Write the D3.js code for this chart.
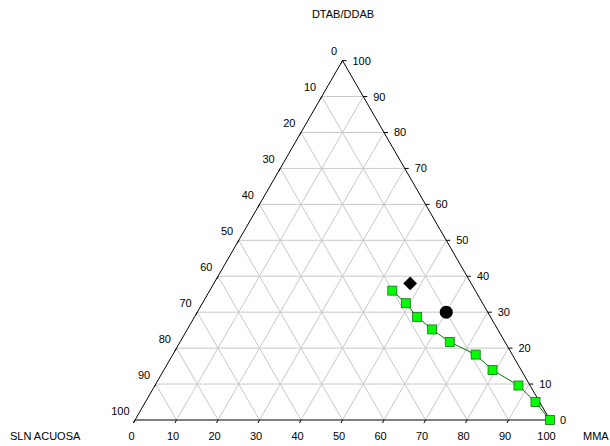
<!DOCTYPE html>
<html><head><meta charset="utf-8">
<script src="https://cdn.jsdelivr.net/npm/d3@7"></script>
<style>body{margin:0;background:#fff}svg{display:block}text{font-family:"Liberation Sans",Arial,sans-serif;font-size:11px;fill:#000}</style>
</head><body><svg id="c" width="610" height="446"></svg>
<script>
// Series: green line (MMA %, DTAB/DDAB %; SLN ACUOSA = 100 - both)
const seriesMMA  = [44, 49, 53.6, 59, 65, 73, 79.2, 87.6, 94, 100];
const seriesDTAB = [36, 32.5, 28.7, 25.2, 21.7, 18.2, 13.9, 9.6, 5, 0];
// Single markers
const diamondPt = {mma: 47.3, dtab: 38};
const circlePt  = {mma: 60, dtab: 30};
const tickValues = [0, 10, 20, 30, 40, 50, 60, 70, 80, 90, 100];
const axisTitles = {top: "DTAB/DDAB", left: "SLN ACUOSA", right: "MMA"};

const svg = d3.select("#c");
const xS = d3.scaleLinear().domain([0, 100]).range([135, 550]);
const yS = d3.scaleLinear().domain([0, 100]).range([420, 60.6]);
const P = (m, d) => [xS(m + d / 2), yS(d)];

const grid = svg.append("g").attr("stroke", "#c8c8c8").attr("stroke-width", 1).attr("fill", "none");
tickValues.slice(1, -1).forEach(v => {
  grid.append("line").attr("x1", P(0, v)[0]).attr("y1", P(0, v)[1]).attr("x2", P(100 - v, v)[0]).attr("y2", P(100 - v, v)[1]);
  grid.append("line").attr("x1", P(v, 0)[0]).attr("y1", P(v, 0)[1]).attr("x2", P(v, 100 - v)[0]).attr("y2", P(v, 100 - v)[1]);
  const t = 100 - v;
  grid.append("line").attr("x1", P(t, 0)[0]).attr("y1", P(t, 0)[1]).attr("x2", P(0, t)[0]).attr("y2", P(0, t)[1]);
});

const tri = [P(0, 0), P(100, 0), P(0, 100)];
svg.append("path").attr("d", "M" + tri.map(p => p.join(",")).join("L") + "Z")
  .attr("fill", "none").attr("stroke", "#000").attr("stroke-width", 1);

const ax = svg.append("g");
tickValues.forEach(v => {
  let p = P(v, 0);
  ax.append("line").attr("x1", p[0]).attr("y1", p[1]).attr("x2", p[0] - 1.5).attr("y2", p[1] + 3).attr("stroke", "#000");
  ax.append("text").attr("x", p[0] - 3.5).attr("y", p[1] + 15.5).attr("text-anchor", "middle").attr("dominant-baseline", "central").text(v);
  p = P(100 - v, v);
  ax.append("line").attr("x1", p[0]).attr("y1", p[1]).attr("x2", p[0] + 4).attr("y2", p[1]).attr("stroke", "#000");
  ax.append("text").attr("x", p[0] + 10).attr("y", p[1]).attr("dominant-baseline", "central").text(v);
  p = P(0, 100 - v);
  ax.append("line").attr("x1", p[0]).attr("y1", p[1]).attr("x2", p[0] - 1.5).attr("y2", p[1] + 3).attr("stroke", "#000");
  ax.append("text").attr("x", p[0] - 5.5).attr("y", p[1] - 9.5).attr("text-anchor", "end").attr("dominant-baseline", "central").text(v);
});

svg.append("text").attr("x", 343).attr("y", 14).attr("text-anchor", "middle").attr("dominant-baseline", "central").text(axisTitles.top);
svg.append("text").attr("x", 10).attr("y", 436).attr("dominant-baseline", "central").text(axisTitles.left);
svg.append("text").attr("x", 583).attr("y", 436).attr("dominant-baseline", "central").text(axisTitles.right);

const pts = seriesMMA.map((m, i) => P(m, seriesDTAB[i]));
svg.append("path").attr("d", d3.line()(pts)).attr("fill", "none").attr("stroke", "#008000").attr("stroke-width", 1);
svg.selectAll("rect.pt").data(pts).join("rect").attr("class", "pt")
  .attr("x", d => d[0] - 4.5).attr("y", d => d[1] - 4.5).attr("width", 9).attr("height", 9)
  .attr("fill", "#00ff00").attr("stroke", "#1a6a1a").attr("stroke-width", 0.8);

const dp = P(diamondPt.mma, diamondPt.dtab);
svg.append("path").attr("d", d3.symbol(d3.symbolSquare, 95)()).attr("transform", `translate(${dp[0]},${dp[1]}) rotate(45)`).attr("fill", "#000");
const cp = P(circlePt.mma, circlePt.dtab);
svg.append("circle").attr("cx", cp[0]).attr("cy", cp[1]).attr("r", 6.5).attr("fill", "#000");
</script></body></html>
